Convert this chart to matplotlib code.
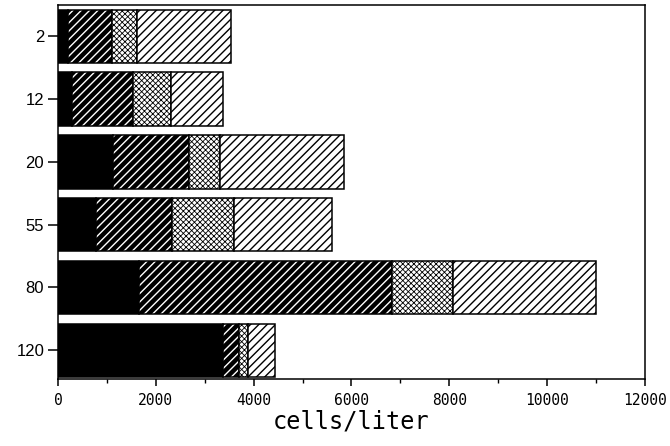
import numpy as np
import matplotlib
matplotlib.use('Agg')
import matplotlib.pyplot as plt
from matplotlib.ticker import MultipleLocator

# depth labels and cell counts per group (cells/liter)
depths = ['2', '12', '20', '55', '80', '120']
solid = [210, 290, 1130, 780, 1660, 3370]
dense = [900, 1250, 1540, 1560, 5170, 330]
cross = [510, 780, 650, 1250, 1250, 180]
sparse = [1910, 1050, 2520, 2010, 2910, 550]

fig = plt.figure(figsize=(6.7, 4.46), dpi=100)
ax = fig.add_axes([0.0866, 0.150, 0.876, 0.839])

y = np.arange(len(depths))
h = 0.85
left = np.zeros(len(depths))

# solid black
ax.barh(y, solid, h, left=left, color='black', edgecolor='black', linewidth=1.1)
left = left + solid

# dense stripes: white hatch on black
ax.barh(y, dense, h, left=left, color='black', edgecolor='white', hatch='////', linewidth=0)
ax.barh(y, dense, h, left=left, fill=False, edgecolor='black', linewidth=1.1)
left = left + dense

# fine cross-hatch (thin lines -> grey checker)
with plt.rc_context({'hatch.linewidth': 0.6}):
    ax.barh(y, cross, h, left=left, color='white', edgecolor='black', hatch='xxxxxx', linewidth=0)
ax.barh(y, cross, h, left=left, fill=False, edgecolor='black', linewidth=1.1)
left = left + cross

# sparse stripes
ax.barh(y, sparse, h, left=left, color='white', edgecolor='black', hatch='////', linewidth=1.1)

ax.set_xlim(0, 12000)
ax.set_ylim(5.46, -0.5)
ax.set_yticks(y)
ax.set_yticklabels(depths, fontfamily='Liberation Sans', fontsize=12)
ax.xaxis.set_major_locator(MultipleLocator(2000))
ax.xaxis.set_minor_locator(MultipleLocator(1000))
for lab in ax.get_xticklabels():
    lab.set_fontfamily('DejaVu Sans Mono')
    lab.set_fontsize(10.5)
ax.set_xlabel('cells/liter', fontfamily='DejaVu Sans Mono', fontsize=17, labelpad=1)

ax.tick_params(axis='y', length=7, width=1.1, pad=3)
ax.tick_params(axis='x', which='major', length=5, width=1.1, pad=5)
ax.tick_params(axis='x', which='minor', length=3, width=1.0)
for s in ax.spines.values():
    s.set_linewidth(1.1)

fig.savefig('out.png', dpi=100)
